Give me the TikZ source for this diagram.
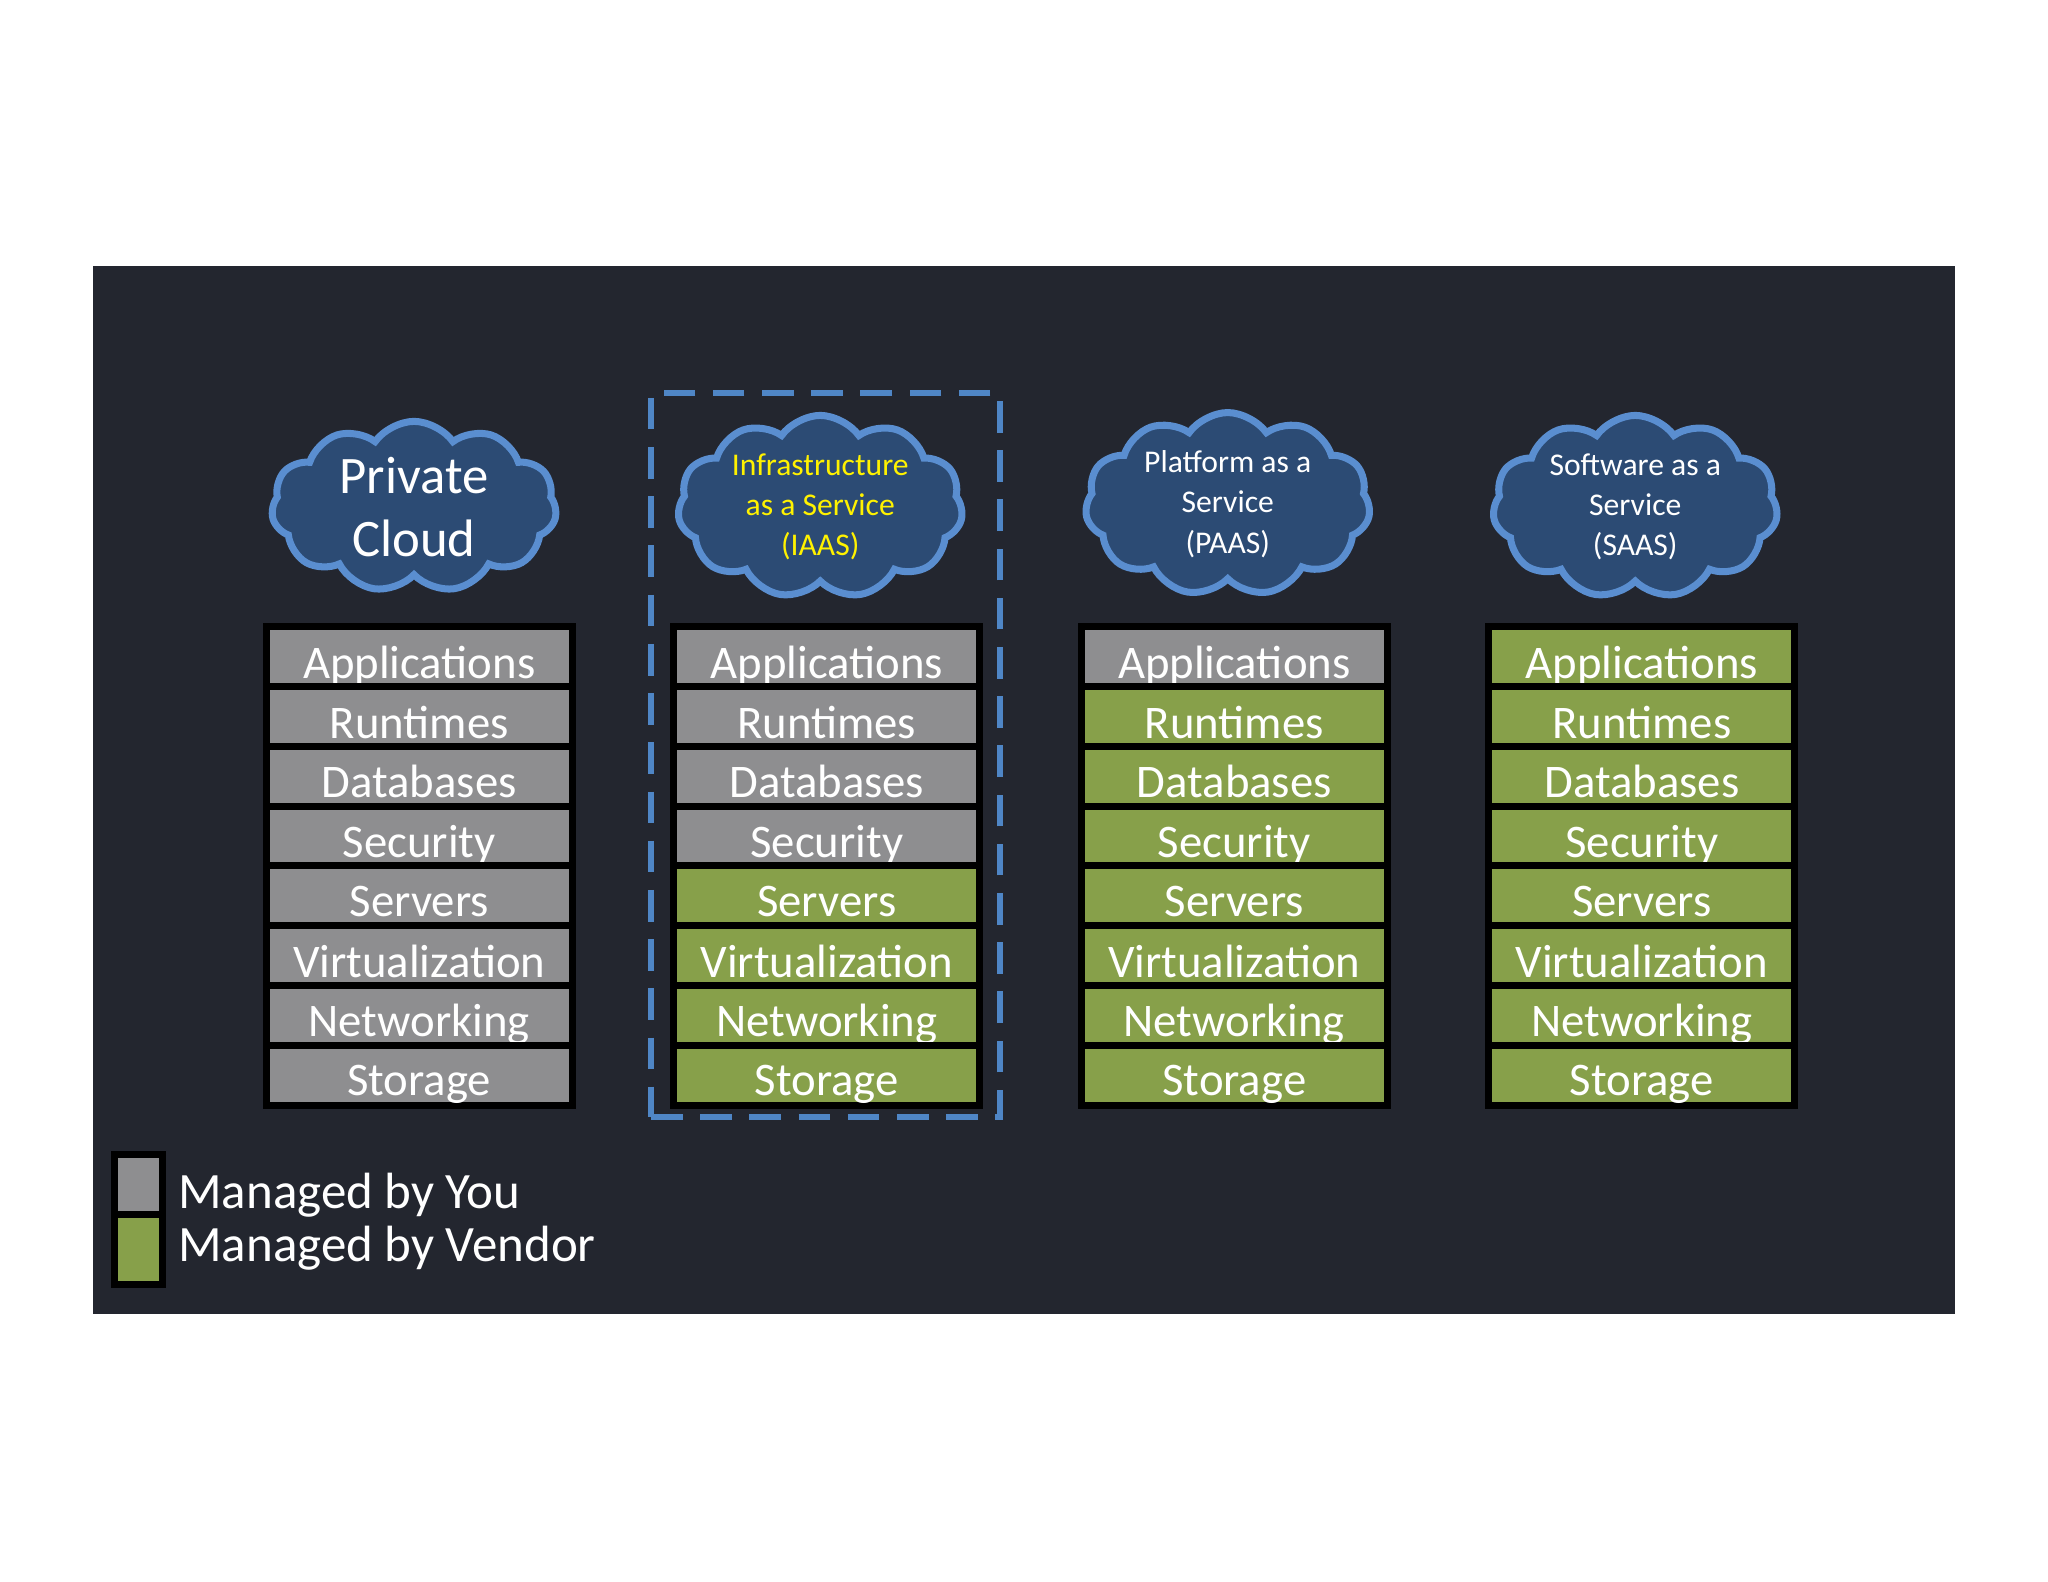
\documentclass[tikz,border=0pt]{standalone}
\usepackage{fontspec}
\setmainfont{Carlito}
\usetikzlibrary{shapes.symbols}
\definecolor{panel}{HTML}{23262F}
\definecolor{you}{HTML}{8E8E90}
\definecolor{vendor}{HTML}{87A04A}
\definecolor{cloudfill}{HTML}{2C4B74}
\definecolor{cloudline}{HTML}{5A8ED0}
\definecolor{dash}{HTML}{4F86C6}
\tikzset{
 row/.style={draw=black,line width=2pt,minimum width=3.06cm,minimum height=0.6cm,inner sep=0pt,text=white,font=\fontsize{13.3}{13.3}\selectfont,text depth=0pt},
 cl/.style={cloud,cloud puffs=11,cloud puff arc=110,aspect=1.7,draw=cloudline,line width=2pt,fill=cloudfill,minimum width=2.85cm,minimum height=1.6cm,align=center,text=white,inner sep=0pt},
 leg/.style={text=white,font=\fontsize{14.5}{14.5}\selectfont,anchor=west,inner sep=0pt}
}
\begin{document}
\begin{tikzpicture}[x=0.013061cm,y=-0.013061cm]
\useasboundingbox (0,0) rectangle (1568,1211);
\fill[panel] (71,204) rectangle (1497,1006);
\node[draw=dash,line width=1.8pt,dash pattern=on 9pt off 5pt,minimum width=3.49cm,minimum height=7.24cm,inner sep=0pt] (frame) at (632,578) {};
\node[cl,font=\fontsize{15}{18}\selectfont] (c1) at (317,388) {Private\\Cloud};
\node[cl,font=\fontsize{9}{11.5}\selectfont,text=yellow] (c2) at (628,388) {Infrastructure\\as a Service\\(IAAS)};
\node[cl,font=\fontsize{9}{11.5}\selectfont] (c3) at (940,386) {Platform as a\\Service\\(PAAS)};
\node[cl,font=\fontsize{9}{11.5}\selectfont] (c4) at (1252,388) {Software as a\\Service\\(SAAS)};
\foreach \c/\x/\g in {1/321/8,2/633/4,3/945/1,4/1257/0}{
 \foreach \t [count=\r] in {Applications,Runtimes,Databases,Security,Servers,Virtualization,Networking,Storage}{
  \pgfmathsetmacro{\yy}{480+45.75*(\r-0.5)}
  \ifnum\r>\g \def\fc{vendor}\else\def\fc{you}\fi
  \node[row,fill=\fc] (s\c-\r) at (\x,\yy) {\raisebox{-3pt}{\t}};
 }
}
\node[draw=black,line width=2pt,fill=you,minimum width=0.48cm,minimum height=0.6cm,inner sep=0pt] (ly) at (106,907) {};
\node[draw=black,line width=2pt,fill=vendor,minimum width=0.48cm,minimum height=0.7cm,inner sep=0pt] (lv) at (106,957) {};
\node[leg] (ty) at (136,915) {Managed by You};
\node[leg] (tv) at (136,956) {Managed by Vendor};
\end{tikzpicture}
\end{document}
